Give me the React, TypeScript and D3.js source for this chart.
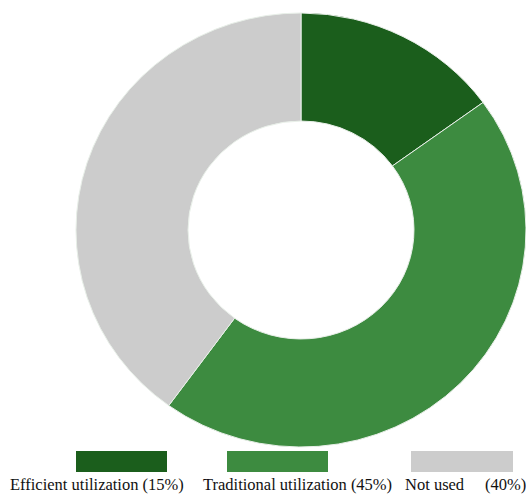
import React from "react";
import * as d3 from "d3";

const categories = ["Efficient utilization", "Traditional utilization", "Not used"];
const values = [15, 45, 40];
const legendLabels = ["Efficient utilization (15%)", "Traditional utilization (45%)", "Not used|(40%)"];
const colors = ["#1b5e1c", "#3d8b40", "#cccccc"];

export default function App() {
  const W = 526, H = 497;
  const cx = 301, cy = 230;
  const R = 225, r = 113;
  const sy = 217 / 225;
  const pie = d3.pie<number>().sort(null).value((d) => d)(values);
  const arc = d3.arc<d3.PieArcDatum<number>>().innerRadius(r).outerRadius(R);
  const legendRects = [
    { x: 76, w: 91 },
    { x: 227, w: 101 },
    { x: 411, w: 102 },
  ];
  const legendText = [10, 203, 405];
  return (
    <svg width={W} height={H} style={{ position: "absolute", left: 0, top: 0 }}>
      <g transform={`translate(${cx},${cy}) scale(1,${sy})`}>
        {pie.map((p, i) => (
          <path key={categories[i]} d={arc(p) || ""} fill={colors[i]} stroke="#e8efe8" strokeWidth={1} vectorEffect="non-scaling-stroke" />
        ))}
      </g>
      {legendRects.map((lr, i) => (
        <rect key={i} x={lr.x} y={451} width={lr.w} height={21} fill={colors[i]} />
      ))}
      {legendLabels.map((t, i) => {
        const parts = t.split("|");
        return (
          <text key={i} x={legendText[i]} y={490} style={{ fontFamily: "Liberation Serif, DejaVu Serif, serif", fontSize: "16.5px" }} fill="#111">
            <tspan>{parts[0]}</tspan>
            {parts[1] && <tspan x={485}>{parts[1]}</tspan>}
          </text>
        );
      })}
    </svg>
  );
}
